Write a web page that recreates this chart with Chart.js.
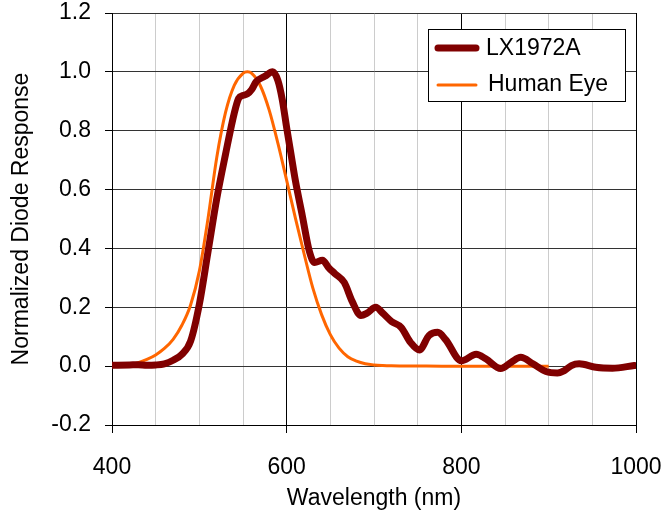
<!DOCTYPE html>
<html>
<head>
<meta charset="utf-8">
<script src="https://cdn.jsdelivr.net/npm/chart.js@4"></script>
<style>
  html, body { margin: 0; padding: 0; background: #fff; }
  #wrap { width: 663px; height: 514px; position: relative; }
</style>
</head>
<body>
<div id="wrap"><canvas id="grafico"></canvas></div>
<script>
// LX1972A photodiode response
var diodeNm  = [400, 420, 430, 440, 450, 460, 470, 480, 490, 500, 510, 520, 530, 540, 545, 550, 555, 560, 565, 575, 584, 590, 595, 600, 605, 610, 618, 626, 632, 641, 648, 655, 666, 675, 685, 692, 702, 710, 720, 731, 742, 752, 763, 773, 782, 800, 817, 828, 845, 857, 868, 882, 897, 910, 918, 926, 935, 954, 973, 998];
var diodeVal = [0.003, 0.004, 0.005, 0.003, 0.004, 0.008, 0.02, 0.04, 0.085, 0.21, 0.39, 0.57, 0.72, 0.86, 0.91, 0.92, 0.925, 0.94, 0.966, 0.985, 1.0, 0.97, 0.905, 0.81, 0.72, 0.63, 0.51, 0.39, 0.352, 0.36, 0.335, 0.315, 0.284, 0.22, 0.172, 0.18, 0.2, 0.18, 0.152, 0.132, 0.08, 0.055, 0.104, 0.115, 0.09, 0.018, 0.04, 0.025, -0.008, 0.013, 0.03, 0.008, -0.018, -0.023, -0.015, 0.002, 0.008, -0.004, -0.007, 0.002];

// human eye (photopic) response
var eyeNm  = [400, 410, 420, 430, 440, 450, 460, 470, 480, 490, 500, 510, 520, 530, 540, 550, 555, 560, 570, 580, 590, 600, 610, 620, 630, 640, 650, 660, 670, 680, 690, 700, 710, 720, 740, 760, 800, 900];
var eyeVal = [0.0004, 0.0012, 0.004, 0.0116, 0.023, 0.038, 0.06, 0.091, 0.139, 0.208, 0.323, 0.503, 0.71, 0.862, 0.954, 0.995, 1.0, 0.995, 0.952, 0.87, 0.757, 0.631, 0.503, 0.381, 0.265, 0.175, 0.107, 0.061, 0.032, 0.017, 0.0082, 0.0041, 0.0021, 0.001, 0.0002, 0.0001, 0, 0];

var xTicks = [400, 600, 800, 1000];
var yTicks = [-0.2, 0, 0.2, 0.4, 0.6, 0.8, 1.0, 1.2];

var fonte = "'Liberation Sans', Arial, sans-serif";

function pontos(xs, ys) {
    return xs.map(function (x, i) { return { x: x, y: ys[i] }; });
}

var legenda = {
    id: 'legenda',
    afterDraw: function (chart) {
        var ctx = chart.ctx;
        var ds = chart.data.datasets;
        ctx.save();
        ctx.fillStyle = '#fff';
        ctx.fillRect(428.5, 29.5, 197, 72);
        ctx.strokeStyle = '#000';
        ctx.lineWidth = 1;
        ctx.strokeRect(428.5, 29.5, 197, 72);

        ctx.lineCap = 'round';
        ctx.strokeStyle = ds[0].borderColor;
        ctx.lineWidth = 7;
        ctx.beginPath(); ctx.moveTo(438, 48); ctx.lineTo(476, 48); ctx.stroke();
        ctx.strokeStyle = ds[1].borderColor;
        ctx.lineWidth = 3;
        ctx.beginPath(); ctx.moveTo(438, 85); ctx.lineTo(476, 85); ctx.stroke();

        ctx.fillStyle = '#000';
        ctx.font = '23px ' + fonte;
        ctx.textBaseline = 'middle';
        ctx.textAlign = 'left';
        ctx.fillText(ds[0].label, 486, 49);
        ctx.fillText(ds[1].label, 488, 85);
        ctx.restore();
    }
};

var chart = new Chart(document.getElementById('grafico').getContext('2d'), {
    type: 'line',
    data: {
        datasets: [{
            label: 'LX1972A',
            data: pontos(diodeNm, diodeVal),
            borderColor: '#800000',
            borderWidth: 7,
            pointRadius: 0,
            cubicInterpolationMode: 'monotone',
            borderJoinStyle: 'round',
            borderCapStyle: 'round',
            fill: false
        }, {
            label: 'Human Eye',
            data: pontos(eyeNm, eyeVal),
            borderColor: '#ff6600',
            borderWidth: 3,
            pointRadius: 0,
            cubicInterpolationMode: 'monotone',
            fill: false
        }]
    },
    options: {
        responsive: true,
        maintainAspectRatio: false,
        animation: false,
        layout: { padding: { top: 13, right: 27, left: 0, bottom: 0 } },
        plugins: {
            legend: { display: false },
            tooltip: { enabled: false }
        },
        scales: {
            x: {
                type: 'linear',
                min: 400,
                max: 1000,
                afterFit: function (s) {
                    s.height = 89;
                    s.paddingLeft = 0;
                    s.paddingRight = 0;
                },
                afterBuildTicks: function (s) {
                    var t = [];
                    for (var v = 400; v <= 1000; v += 50) t.push({ value: v });
                    s.ticks = t;
                },
                ticks: {
                    autoSkip: false,
                    maxRotation: 0,
                    padding: 21,
                    color: '#000',
                    font: { family: fonte, size: 23 },
                    callback: function (v) { return xTicks.indexOf(v) >= 0 ? String(v) : ''; }
                },
                grid: {
                    color: function (c) { return c.tick && c.tick.value % 200 === 0 ? '#000' : '#cccccc'; },
                    tickColor: function (c) { return c.tick && c.tick.value % 200 === 0 ? '#000' : 'rgba(0,0,0,0)'; },
                    tickLength: 8,
                    lineWidth: 1
                },
                border: { color: '#000', width: 1 },
                title: {
                    display: true,
                    text: 'Wavelength (nm)',
                    color: '#000',
                    font: { family: fonte, size: 23 },
                    padding: { top: 0, bottom: 2 }
                }
            },
            y: {
                min: -0.2,
                max: 1.2,
                afterFit: function (s) {
                    s.width = 112;
                    s.paddingTop = 0;
                    s.paddingBottom = 0;
                },
                afterBuildTicks: function (s) {
                    s.ticks = yTicks.map(function (v) { return { value: v }; });
                },
                ticks: {
                    padding: 14,
                    color: '#000',
                    font: { family: fonte, size: 23 },
                    callback: function (v) { return Number(v).toFixed(1); }
                },
                grid: {
                    color: '#333333',
                    tickColor: '#000',
                    tickLength: 7,
                    lineWidth: 1
                },
                border: { color: '#000', width: 1 },
                title: {
                    display: true,
                    text: 'Normalized Diode Response',
                    color: '#000',
                    font: { family: fonte, size: 23 },
                    padding: { top: 8, bottom: 0 }
                }
            }
        }
    },
    plugins: [legenda]
});
</script>
</body>
</html>
